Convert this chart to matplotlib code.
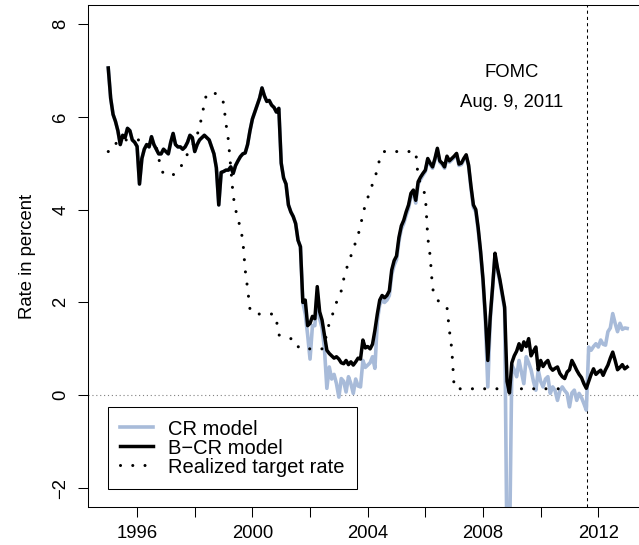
import numpy as np
import matplotlib

matplotlib.use("Agg")  # Use non-interactive backend
import matplotlib.pyplot as plt

# monthly values, first point January 1995
START_YEAR = 1995

# B-CR model, 1995.0 .. 2013.0
bcr_model = [
    7.05, 6.40, 6.05, 5.90, 5.70, 5.40, 5.60, 5.55, 5.75, 5.70, 5.50, 5.45,  # 1995
    5.36, 4.55, 5.10, 5.30, 5.40, 5.35, 5.57, 5.40, 5.30, 5.20, 5.20, 5.30,  # 1996
    5.25, 5.20, 5.45, 5.64, 5.40, 5.35, 5.35, 5.30, 5.35, 5.45, 5.60, 5.55,  # 1997
    5.25, 5.40, 5.50, 5.55, 5.60, 5.55, 5.50, 5.35, 5.20, 4.90, 4.10, 4.80,  # 1998
    4.82, 4.85, 4.85, 4.92, 4.78, 4.95, 5.05, 5.14, 5.20, 5.22, 5.40, 5.70,  # 1999
    5.95, 6.10, 6.25, 6.40, 6.62, 6.45, 6.33, 6.35, 6.25, 6.20, 6.10, 6.18,  # 2000
    5.00, 4.68, 4.55, 4.10, 3.95, 3.85, 3.70, 3.34, 3.20, 2.00, 2.05, 1.50,  # 2001
    1.55, 1.70, 1.65, 2.34, 1.80, 1.62, 1.30, 0.97, 0.90, 0.85, 0.80, 0.83,  # 2002
    0.78, 0.70, 0.68, 0.75, 0.66, 0.72, 0.65, 0.72, 0.80, 0.78, 1.19, 1.02,  # 2003
    1.05, 1.00, 1.10, 1.40, 1.75, 2.05, 2.15, 2.10, 2.15, 2.25, 2.70, 2.90,  # 2004
    3.00, 3.40, 3.65, 3.77, 3.95, 4.10, 4.35, 4.42, 4.20, 4.60, 4.70, 4.78,  # 2005
    4.85, 5.10, 5.00, 4.92, 5.10, 5.32, 5.05, 5.00, 4.92, 5.15, 5.05, 5.10,  # 2006
    5.15, 5.21, 4.98, 5.00, 5.10, 5.18, 4.96, 4.50, 4.10, 4.00, 3.60, 3.10,  # 2007
    2.50, 1.70, 0.75, 1.69, 2.34, 3.06, 2.75, 2.50, 2.20, 1.90, 0.30, 0.05,  # 2008
    0.70, 0.85, 0.95, 1.11, 0.97, 1.15, 1.05, 1.22, 0.85, 0.95, 1.04, 0.55,  # 2009
    0.75, 0.62, 0.70, 0.75, 0.60, 0.54, 0.58, 0.61, 0.47, 0.40, 0.36, 0.50,  # 2010
    0.55, 0.75, 0.65, 0.54, 0.45, 0.38, 0.25, 0.15, 0.30, 0.45, 0.57, 0.45,  # 2011
    0.50, 0.54, 0.43, 0.55, 0.65, 0.80, 0.93, 0.75, 0.55, 0.60, 0.66, 0.57,  # 2012
    0.61,
]

# CR model, 1995.0 .. 2013.0
cr_model = [
    7.05, 6.40, 6.05, 5.90, 5.70, 5.40, 5.60, 5.55, 5.75, 5.70, 5.50, 5.45,  # 1995
    5.36, 4.55, 5.10, 5.30, 5.40, 5.35, 5.57, 5.40, 5.30, 5.20, 5.20, 5.30,  # 1996
    5.25, 5.20, 5.45, 5.64, 5.40, 5.35, 5.35, 5.30, 5.35, 5.45, 5.60, 5.55,  # 1997
    5.25, 5.40, 5.50, 5.55, 5.60, 5.55, 5.50, 5.35, 5.20, 4.90, 4.10, 4.80,  # 1998
    4.82, 4.85, 4.85, 4.92, 4.78, 4.95, 5.05, 5.14, 5.20, 5.22, 5.40, 5.70,  # 1999
    5.95, 6.10, 6.25, 6.40, 6.62, 6.45, 6.33, 6.35, 6.25, 6.20, 6.10, 6.18,  # 2000
    5.00, 4.68, 4.55, 4.10, 3.95, 3.85, 3.70, 3.34, 3.20, 2.00, 1.75, 1.30,  # 2001
    0.78, 1.50, 1.50, 2.20, 1.65, 1.45, 1.00, 0.15, 0.61, 0.35, 0.45, 0.25,  # 2002
    -0.04, 0.36, 0.30, 0.07, 0.40, 0.25, 0.04, 0.35, 0.20, 0.18, 0.75, 0.60,  # 2003
    0.65, 0.70, 0.83, 0.58, 1.60, 1.95, 2.05, 2.00, 2.05, 2.15, 2.60, 2.80,  # 2004
    2.92, 3.32, 3.58, 3.70, 3.88, 4.03, 4.28, 4.36, 4.14, 4.55, 4.65, 4.74,  # 2005
    4.82, 5.07, 4.97, 4.89, 5.07, 5.29, 5.02, 4.97, 4.89, 5.12, 5.02, 5.07,  # 2006
    5.12, 5.18, 4.95, 4.97, 5.07, 5.15, 4.93, 4.45, 4.05, 3.95, 3.55, 3.05,  # 2007
    2.45, 1.60, 0.18, 1.60, 2.30, 3.02, 2.70, 2.45, 2.15, 1.85, -3.50, -3.50,  # 2008
    0.65, 0.55, 0.40, 0.75, 0.50, 0.25, 0.83, 0.70, 0.55, 0.30, 0.11, 0.54,  # 2009
    0.30, 0.18, 0.35, 0.40, 0.04, 0.18, 0.10, -0.11, 0.10, 0.18, 0.10, 0.04,  # 2010
    -0.25, 0.05, 0.11, -0.11, 0.04, -0.05, -0.18, -0.32, 1.04, 0.97, 1.05, 1.11,  # 2011
    1.04, 1.19, 1.10, 1.08, 1.37, 1.45, 1.76, 1.55, 1.37, 1.55, 1.42, 1.45,  # 2012
    1.44,
]

# realized target rate, 1995.0 .. 2010.75
target_rate = [
    5.25, 5.25, 5.30, 5.40, 5.50, 5.50, 5.50, 5.50, 5.50, 5.50, 5.50, 5.50,  # 1995
    5.50, 5.50, 5.50, 5.50, 5.50, 5.50, 5.50, 5.50, 5.35, 5.10, 4.90, 4.76,  # 1996
    4.75, 4.75, 4.75, 4.75, 4.78, 4.85, 4.90, 5.00, 5.10, 5.20, 5.25, 5.35,  # 1997
    5.50, 5.60, 5.80, 6.00, 6.30, 6.50, 6.50, 6.50, 6.50, 6.50, 6.45, 6.40,  # 1998
    6.30, 5.85, 5.50, 4.90, 4.30, 4.00, 3.80, 3.60, 3.35, 2.70, 2.30, 1.85,  # 1999
    1.78, 1.75, 1.75, 1.75, 1.75, 1.75, 1.75, 1.75, 1.75, 1.75, 1.62, 1.30,  # 2000
    1.28, 1.26, 1.25, 1.24, 1.22, 1.20, 1.19, 1.05, 1.00, 1.00, 1.00, 1.00,  # 2001
    1.00, 1.00, 1.00, 1.00, 1.00, 1.00, 1.10, 1.35, 1.55, 1.70, 1.82, 2.00,  # 2002
    2.15, 2.25, 2.50, 2.70, 2.85, 3.00, 3.15, 3.30, 3.45, 3.65, 3.90, 4.10,  # 2003
    4.25, 4.40, 4.55, 4.70, 4.85, 5.10, 5.22, 5.25, 5.25, 5.25, 5.25, 5.25,  # 2004
    5.25, 5.25, 5.25, 5.25, 5.25, 5.25, 5.25, 5.25, 5.25, 4.70, 4.55, 4.45,  # 2005
    4.30, 3.40, 3.00, 2.30, 2.15, 2.05, 2.01, 1.97, 1.93, 1.90, 1.40, 1.00,  # 2006
    0.16, 0.14, 0.14, 0.14, 0.14, 0.14, 0.14, 0.14, 0.14, 0.14, 0.14, 0.14,  # 2007
    0.14, 0.14, 0.14, 0.14, 0.14, 0.14, 0.14, 0.14, 0.14, 0.14, 0.14, 0.14,  # 2008
    0.14, 0.14, 0.14, 0.14, 0.14, 0.14, 0.14, 0.14, 0.14, 0.14, 0.14, 0.14,  # 2009
    0.14, 0.14, 0.14, 0.14, 0.14, 0.14, 0.14, 0.14, 0.14, 0.14,  # 2010
]

FOMC_DATE = 2011.6  # Aug. 9, 2011
x_ticks = [1996, 1998, 2000, 2002, 2004, 2006, 2008, 2010, 2012]
x_tick_labels = ["1996", "", "2000", "", "2004", "", "2008", "", "2012"]
y_ticks = [-2, 0, 2, 4, 6, 8]

CR_COLOR = "#a8bbd9"
FONT_SIZE = 13.3


def plot_rates():
    plt.rcParams["font.family"] = ["Liberation Sans", "DejaVu Sans"]
    plt.rcParams["font.size"] = FONT_SIZE

    t_models = START_YEAR + np.arange(len(bcr_model)) / 12
    t_target = START_YEAR + np.arange(len(target_rate)) / 12

    fig = plt.figure(figsize=(6.39, 5.45), dpi=100)
    # right edge of the box is cut off in the original
    ax = fig.add_axes([87.5 / 639, 38.3 / 545, 560.4 / 639, 501.4 / 545])

    ax.axhline(0, color="#808080", lw=0.8, linestyle=(0, (1, 2.5)), zorder=1)
    ax.axvline(FOMC_DATE, color="black", lw=0.75, linestyle=(0, (3, 3)), zorder=1)

    ax.plot(t_models, cr_model, color=CR_COLOR, lw=2.6, label="CR model", zorder=2)
    ax.plot(t_models, bcr_model, color="black", lw=2.5, label="B\u2212CR model", zorder=3)
    ax.plot(t_target, target_rate, color="black", lw=2.2, linestyle=(0, (0.01, 4)),
            dash_capstyle="round", label="Realized target rate", zorder=4)

    ax.text(2008.98, 6.96, "FOMC", ha="center", va="center")
    ax.text(2008.98, 6.30, "Aug. 9, 2011", ha="center", va="center")

    ax.set_xlim(1994.28, 2013.72)
    ax.set_ylim(-2.4, 8.4)
    ax.set_xticks(x_ticks)
    ax.set_xticklabels(x_tick_labels)
    ax.set_yticks(y_ticks)
    ax.set_yticklabels([str(v).replace("-", "\u2212") for v in y_ticks],
                       rotation=90, va="center")
    ax.tick_params(direction="out", length=7.2, width=0.75, pad=6)
    ax.set_ylabel("Rate in percent", labelpad=12)
    for spine in ax.spines.values():
        spine.set_linewidth(0.75)

    leg = ax.legend(loc="lower left", bbox_to_anchor=(0.0366, 0.0353),
                    borderaxespad=0, fancybox=False, edgecolor="black",
                    framealpha=1, handlelength=1.6, handletextpad=0.75,
                    labelspacing=0.0, borderpad=0.62, fontsize=14.5)
    leg.get_frame().set_linewidth(0.75)

    fig.savefig("out.png", dpi=100)


if __name__ == "__main__":
    plot_rates()
